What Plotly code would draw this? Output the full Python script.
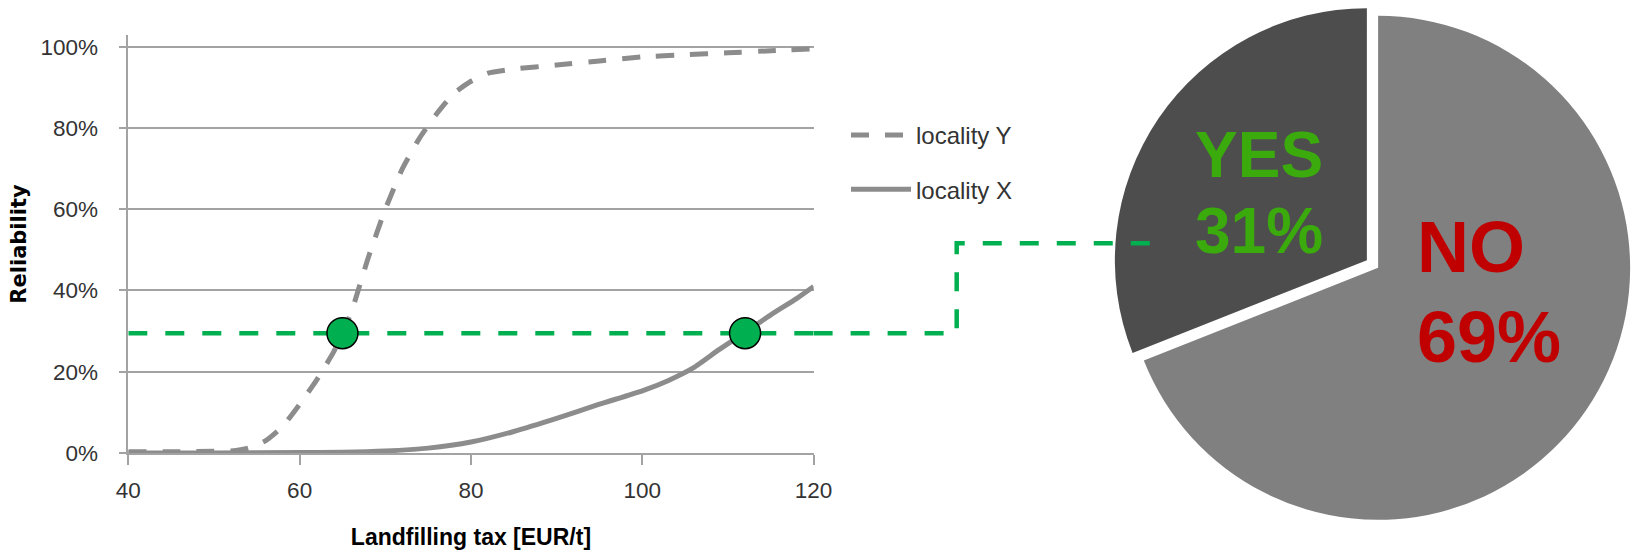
import plotly.graph_objects as go

# ---------------- data ----------------
tax_Y = [40, 45, 50, 52, 54, 56, 58, 60, 62, 64, 66, 68, 70, 72, 74, 76, 78, 80, 82, 85, 90, 95, 100, 105, 110, 115, 120]
rel_Y = [0.003, 0.003, 0.004, 0.005, 0.012, 0.03, 0.065, 0.12, 0.18, 0.25, 0.345, 0.48, 0.60, 0.70, 0.775, 0.835,
         0.885, 0.915, 0.935, 0.945, 0.955, 0.965, 0.975, 0.98, 0.985, 0.99, 0.995]

tax_X = [40, 50, 60, 65, 70, 75, 80, 85, 90, 95, 100, 103, 106, 109, 112, 115, 118, 120]
rel_X = [0.0, 0.0, 0.001, 0.002, 0.005, 0.012, 0.027, 0.053, 0.085, 0.12, 0.153, 0.178, 0.21, 0.255, 0.297,
         0.34, 0.38, 0.41]

series_names = ["locality Y", "locality X"]

threshold_tax = [65, 112]
threshold_rel = 0.295

x_ticks = [40, 60, 80, 100, 120]
y_ticks = [0, 0.2, 0.4, 0.6, 0.8, 1.0]
y_ticktext = ["0%", "20%", "40%", "60%", "80%", "100%"]

pie_labels = ["NO", "YES"]
pie_values = [69, 31]

# ---------------- geometry ----------------
W, H = 1633, 553
PX_L, PX_R = 128.3, 813.6          # plot area left/right (px)
PX_Y0, PX_Y100 = 453.0, 46.7       # y pixel of 0% and 100%
PX_TOP = 35.0                       # top of y axis line
y_top = (PX_Y0 - PX_TOP) / (PX_Y0 - PX_Y100)


def fx(px):
    return px / W


def fy(py):
    return 1 - py / H


def ypx(v):
    return PX_Y0 - v * (PX_Y0 - PX_Y100)


GRAY = "#8c8c8c"
GRID = "#a3a3a3"
GREEN = "#00b050"
TXT = "#333333"
SANS = "Liberation Sans, Arial, sans-serif"

fig = go.Figure()

fig.add_trace(go.Scatter(
    x=tax_Y, y=rel_Y, mode="lines", name=series_names[0], legendgroup="a",
    line=dict(color=GRAY, width=5, dash="18px,16px", shape="spline", smoothing=0.5),
    hoverinfo="skip"))
fig.add_trace(go.Scatter(
    x=tax_X, y=rel_X, mode="lines", name=series_names[1], legendgroup="b",
    line=dict(color=GRAY, width=5, shape="spline", smoothing=0.5),
    hoverinfo="skip"))

# green threshold line inside plot
fig.add_trace(go.Scatter(
    x=[x_ticks[0], x_ticks[-1]], y=[threshold_rel, threshold_rel], mode="lines",
    line=dict(color=GREEN, width=4.5, dash="19px,18px"), showlegend=False, hoverinfo="skip"))
fig.add_trace(go.Scatter(
    x=threshold_tax, y=[threshold_rel] * len(threshold_tax), mode="markers",
    marker=dict(size=31, color=GREEN, line=dict(color="black", width=1.5)),
    showlegend=False, hoverinfo="skip", cliponaxis=False))

# pie
pull = 0.027
R = 252.0
cx, cy = 1372.5, 264.0
half = R * (1 + pull)
fig.add_trace(go.Pie(
    labels=pie_labels, values=pie_values, sort=False, direction="clockwise", rotation=0,
    marker=dict(colors=["#808080", "#4d4d4d"], line=dict(width=0)),
    pull=[pull, pull], textinfo="none", hoverinfo="skip", showlegend=False,
    automargin=False,
    domain=dict(x=[fx(cx - half), min(1.0, fx(cx + half))], y=[fy(cy + half), fy(cy - half)])))

# connector from plot edge to pie label
x_vert = 956.7
y_upper = 243.3
x_end = 1165.0
y_low = ypx(threshold_rel)
path = "M {} {} L {} {} L {} {} L {} {}".format(
    fx(PX_R), fy(y_low), fx(x_vert), fy(y_low), fx(x_vert), fy(y_upper), fx(x_end), fy(y_upper))
fig.add_shape(type="path", path=path, xref="paper", yref="paper",
              line=dict(color=GREEN, width=4.5, dash="19px,18px"), layer="above")

# pie labels
label_style = {
    "YES": dict(color="#3aaa0c", size=64, x=1193, y1=154.7, y2=230.5),
    "NO": dict(color="#c00000", size=72, x=1415, y1=246.7, y2=337.0),
}
for lab, val in zip(pie_labels, pie_values):
    s = label_style[lab]
    for txt, yy in ((lab, s["y1"]), (f"{val}%", s["y2"])):
        fig.add_annotation(
            text=txt, x=fx(s["x"]), y=fy(yy), xref="paper", yref="paper",
            xanchor="left", yanchor="middle", showarrow=False,
            font=dict(family=SANS, size=s["size"], color=s["color"], weight="bold"))

fig.update_layout(
    template="none",
    width=W, height=H,
    margin=dict(l=0, r=0, t=0, b=0, pad=0, autoexpand=False),
    paper_bgcolor="white", plot_bgcolor="white",
    showlegend=True,
    legend=dict(x=fx(846), y=fy(113), xanchor="left", yanchor="top",
                font=dict(family=SANS, size=24, color=TXT),
                traceorder="grouped", tracegroupgap=20, itemwidth=60,
                bgcolor="rgba(0,0,0,0)", borderwidth=0),
    xaxis=dict(domain=[fx(PX_L), fx(PX_R)], range=[40, 120], tickvals=x_ticks, automargin=False,
               showgrid=False, zeroline=False, showline=True, linecolor=GRID, linewidth=1.5,
               ticks="outside", ticklen=10, tickcolor=GRID, tickwidth=1.5,
               tickfont=dict(family=SANS, size=22.5, color=TXT), ticklabelstandoff=6,
               title=dict(text="Landfilling tax [EUR/t]", standoff=27,
                          font=dict(family=SANS, size=23, color="black", weight="bold"))),
    yaxis=dict(domain=[fy(PX_Y0), fy(PX_TOP)], range=[0, y_top], tickvals=y_ticks, ticktext=y_ticktext,
               automargin=False,
               showgrid=True, gridcolor=GRID, gridwidth=1.5, zeroline=False,
               showline=True, linecolor=GRID, linewidth=1.5,
               ticks="outside", ticklen=8, tickcolor=GRID, tickwidth=1.5,
               tickfont=dict(family=SANS, size=22.5, color=TXT), ticklabelstandoff=16,
               title=dict(text="Reliability", standoff=8,
                          font=dict(family="DejaVu Sans, sans-serif", size=21, color="black", weight="bold"))),
)

fig.write_html("out.html")
